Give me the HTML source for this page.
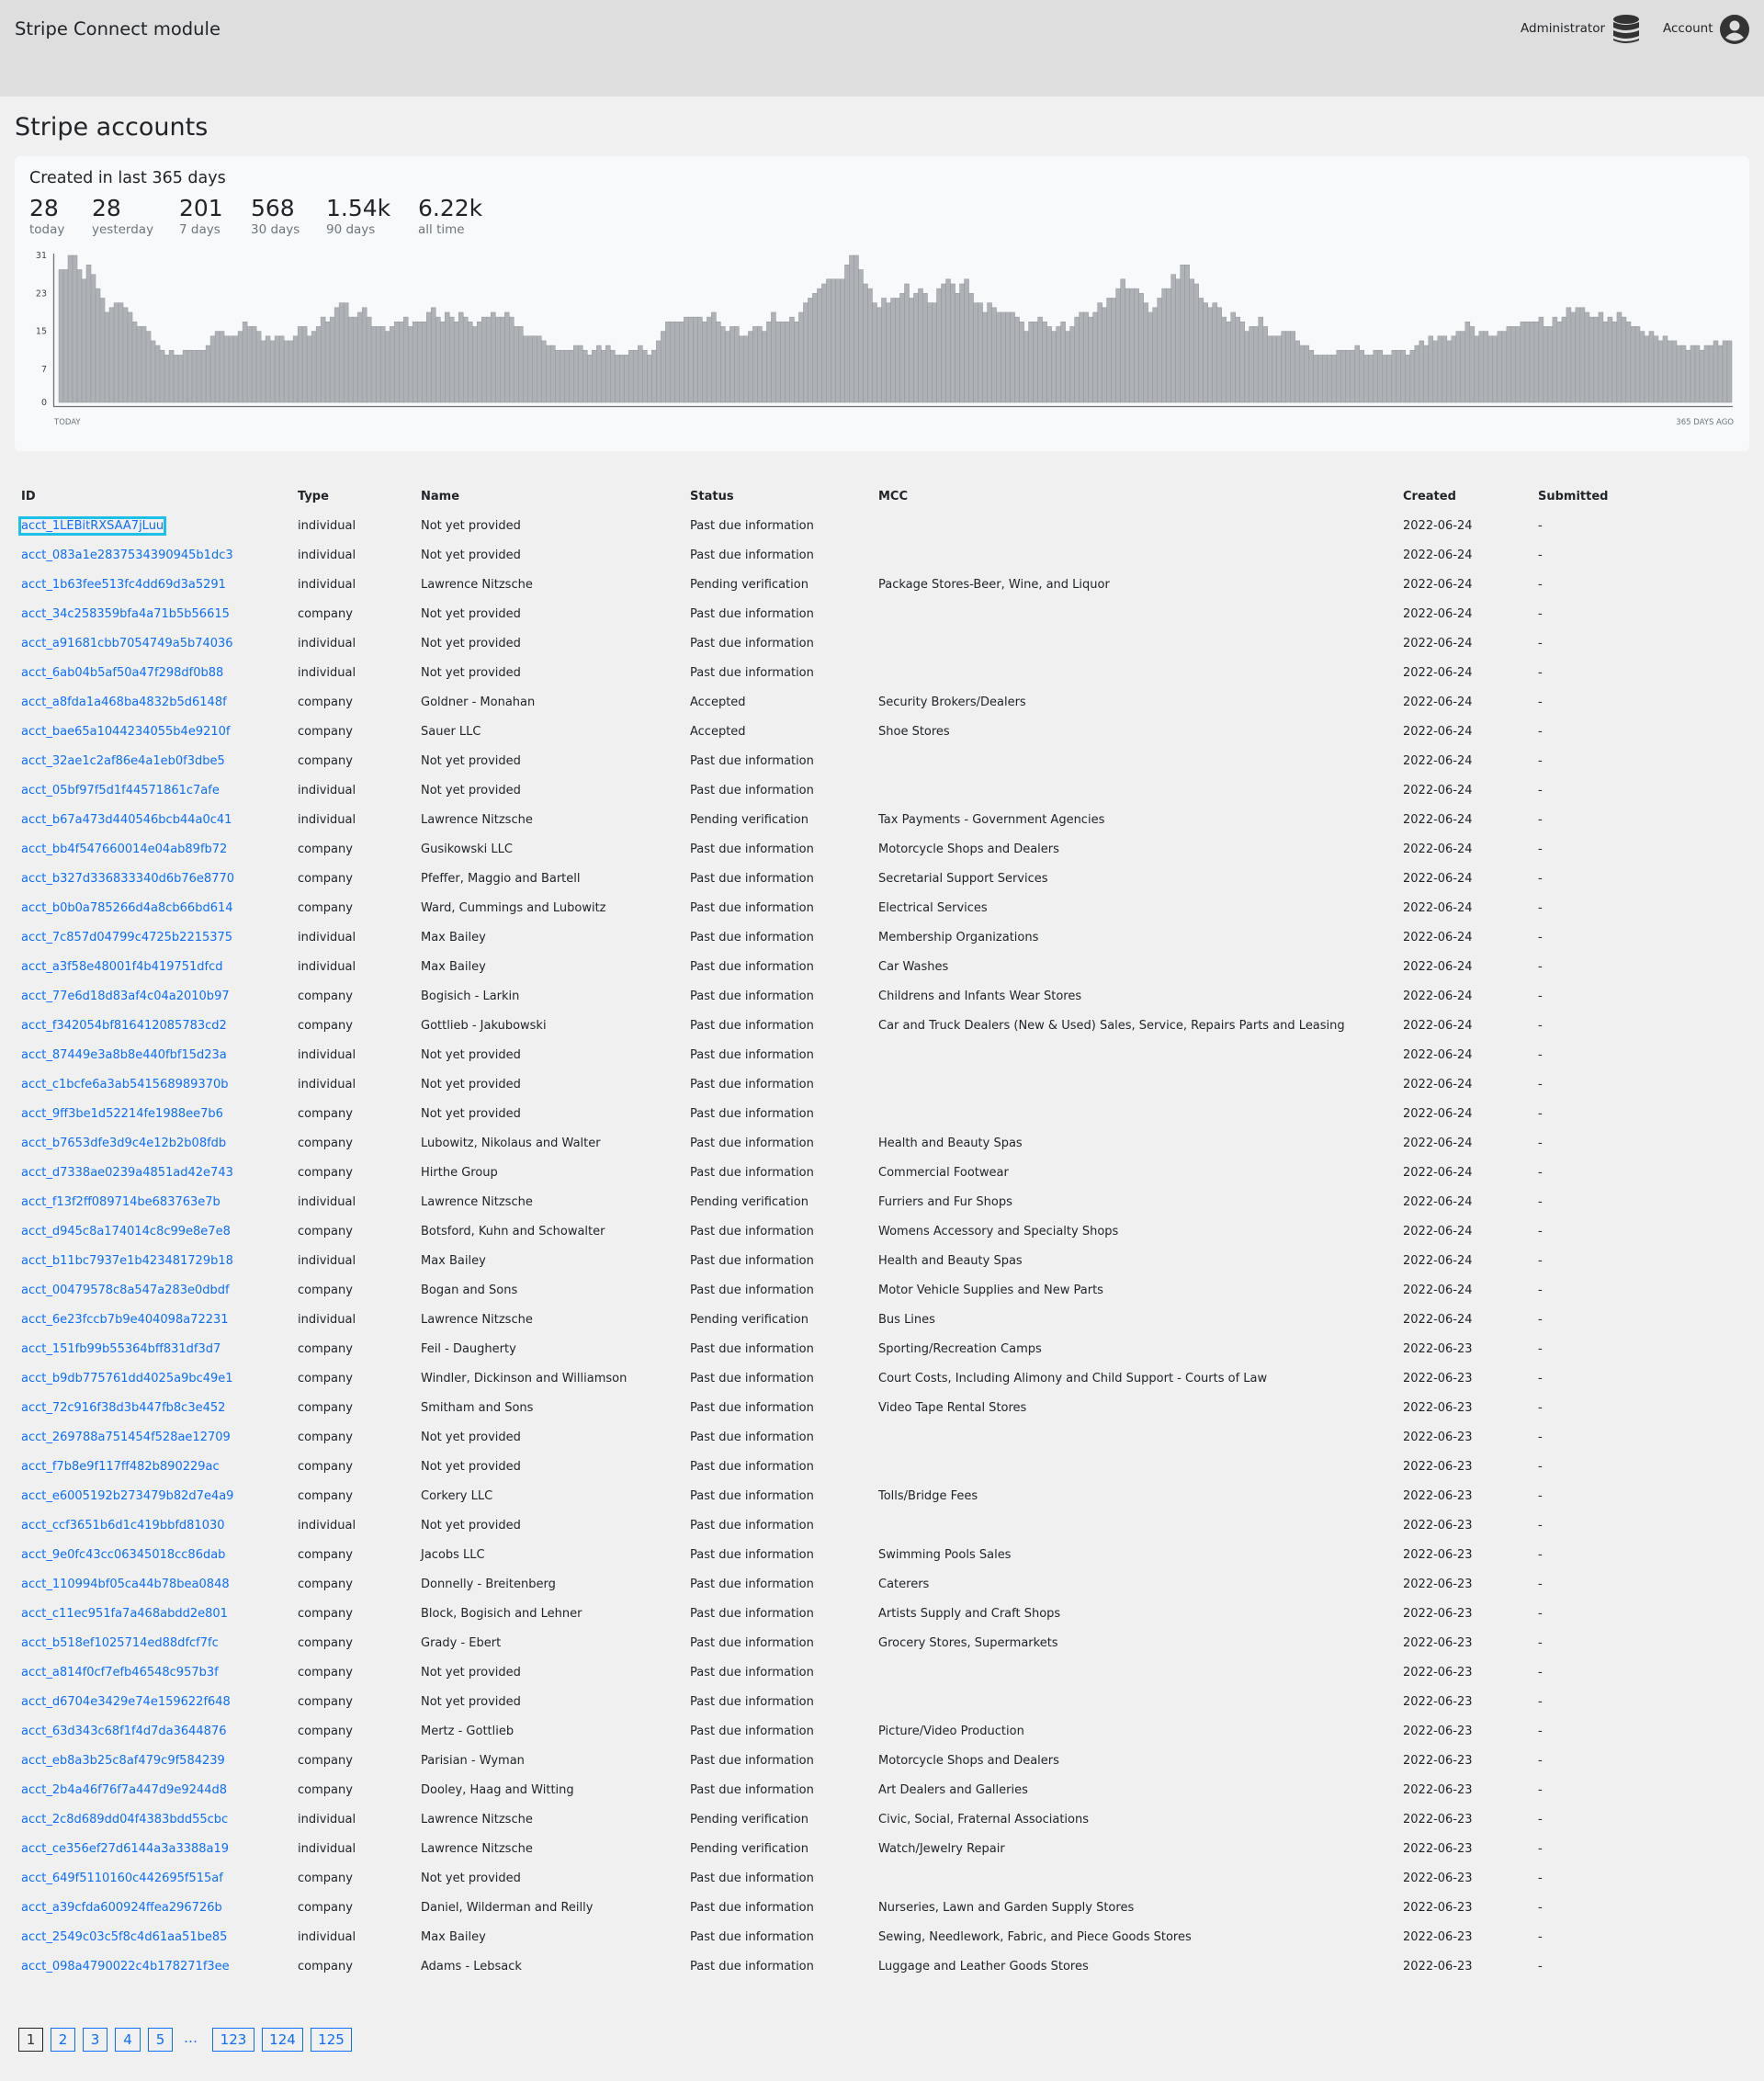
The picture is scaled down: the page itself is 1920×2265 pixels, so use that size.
<!DOCTYPE html>
<html><head><meta charset="utf-8"><title>Stripe accounts</title>
<style>
*{box-sizing:border-box;margin:0;padding:0}
body{width:1920px;height:2265px;background:#f0f0f0;font-family:"DejaVu Sans","Liberation Sans",sans-serif;color:#212529;position:relative;overflow:hidden}
.hdr{position:absolute;left:0;top:0;width:1920px;height:105px;background:#dedede}
.abs{position:absolute;white-space:nowrap}
.card{position:absolute;left:16px;top:170px;width:1888px;height:321px;background:#f8f9fa;border-radius:6px}
.num{position:absolute;top:210px;font-size:25px;color:#212529;line-height:34px}
.lbl{position:absolute;top:242px;font-size:13.5px;color:#6c757d}
table{position:absolute;left:23px;top:524px;border-collapse:collapse;table-layout:fixed;font-size:13px}
td,th{height:32px;padding:0;text-align:left;vertical-align:middle;white-space:nowrap}
th{font-weight:bold}
a{color:#0d6efd;text-decoration:none}
a.focus{outline:3px solid #1cc0e6;outline-offset:0px}
.pg{position:absolute;top:2207px;height:26px;border:1px solid #0d6efd;color:#0d6efd;font-size:15px;text-align:center;line-height:24px}
</style></head><body>
<div class="hdr">
  <div class="abs" style="left:16px;top:20px;font-size:19.5px">Stripe Connect module</div>
  <div class="abs" style="left:1655px;top:23px;font-size:13.5px">Administrator</div>
  <svg class="abs" style="left:1756px;top:16px" width="28" height="32" viewBox="0 0 28 32">
    <ellipse cx="14" cy="5" rx="14" ry="5" fill="#333"/>
    <path d="M0 8 Q14 14 28 8 V14 Q14 20 0 14Z" fill="#333"/>
    <path d="M0 17 Q14 23 28 17 V23 Q14 29 0 23Z" fill="#333"/>
    <path d="M0 26 Q14 32 28 26 V28 Q14 34 0 28Z" fill="#333"/>
  </svg>
  <div class="abs" style="left:1810px;top:23px;font-size:13.5px">Account</div>
  <svg class="abs" style="left:1872px;top:16px" width="32" height="32" viewBox="0 0 32 32">
    <circle cx="16" cy="16" r="16" fill="#333"/>
    <circle cx="16" cy="12" r="5.5" fill="#dedede"/>
    <path d="M6 25 Q16 14 26 25 Q16 32 6 25Z" fill="#dedede"/>
  </svg>
</div>
<div class="abs" style="left:16px;top:123px;font-size:27px">Stripe accounts</div>
<div class="card"></div>
<div class="abs" style="left:32px;top:184px;font-size:17.5px">Created in last 365 days</div>
<div class="num" style="left:32px">28</div><div class="lbl" style="left:32px">today</div>
<div class="num" style="left:100px">28</div><div class="lbl" style="left:100px">yesterday</div>
<div class="num" style="left:195px">201</div><div class="lbl" style="left:195px">7 days</div>
<div class="num" style="left:273px">568</div><div class="lbl" style="left:273px">30 days</div>
<div class="num" style="left:355px">1.54k</div><div class="lbl" style="left:355px">90 days</div>
<div class="num" style="left:455px">6.22k</div><div class="lbl" style="left:455px">all time</div>
<svg id="chart" class="abs" style="left:0;top:0" width="1920" height="480"></svg>
<table id="tbl">
<colgroup><col style="width:301px"><col style="width:134px"><col style="width:293px"><col style="width:205px"><col style="width:571px"><col style="width:147px"><col style="width:200px"></colgroup>
<thead><tr>
<th>ID</th><th>Type</th><th>Name</th><th>Status</th><th>MCC</th><th>Created</th><th>Submitted</th>
</tr></thead><tbody id="tb"></tbody></table>
<div class="pg" style="left:20px;width:27px;border-color:#222;color:#333">1</div>
<div class="pg" style="left:55px;width:27px">2</div>
<div class="pg" style="left:90px;width:27px">3</div>
<div class="pg" style="left:125px;width:28px">4</div>
<div class="pg" style="left:161px;width:27px">5</div>
<div class="abs" style="left:200px;top:2209px;font-size:15px;color:#0d6efd">…</div>
<div class="pg" style="left:231px;width:46px">123</div>
<div class="pg" style="left:285px;width:45px">124</div>
<div class="pg" style="left:338px;width:45px">125</div>
<script>
const dailyCounts=[28,28,31,31,28,26,29,27,24,22,19,20,21,21,20,19,17,16,16,15,13,12,11,10,11,10,10,11,11,11,11,11,12,14,15,15,14,14,14,15,17,16,16,15,13,14,13,14,14,13,13,14,16,16,14,15,16,18,17,18,20,21,21,18,18,19,20,18,16,16,16,15,16,17,17,18,16,17,17,17,19,20,18,17,19,18,17,19,18,17,16,17,18,18,19,18,18,19,18,16,16,14,14,14,14,13,12,12,11,11,11,11,12,12,11,10,
11,12,11,12,11,10,10,10,11,11,12,11,10,11,13,15,17,17,17,17,18,18,18,18,17,18,19,17,16,15,16,16,14,14,15,16,16,15,17,19,17,17,17,18,17,19,21,22,23,24,25,26,26,26,26,29,31,31,28,25,24,21,20,22,21,22,22,23,25,22,23,24,23,21,21,24,25,26,25,23,25,26,23,21,21,19,21,20,19,19,19,19,18,17,15,17,17,18,17,16,15,16,17,15,16,18,19,19,18,19,21,20,22,22,24,26,24,24,24,23,21,19,20,
22,24,24,27,26,29,29,26,25,22,21,20,21,20,18,17,19,18,17,15,16,16,18,16,14,14,14,15,15,15,13,12,12,11,10,10,10,10,10,11,11,11,11,12,11,10,10,11,11,10,10,11,11,11,10,11,12,13,12,14,13,14,14,13,14,15,15,17,16,14,15,15,14,14,15,15,16,16,16,17,17,17,17,18,16,16,18,17,18,20,19,20,20,19,18,18,19,17,18,17,19,18,17,16,16,15,14,15,14,13,14,13,13,12,12,11,12,12,11,12,12,13,12,13,13];
const yTicks=[0,7,15,23,31];
const xLabels=["TODAY","365 DAYS AGO"];
const NS="http://www.w3.org/2000/svg";
const svg=document.getElementById('chart');
const X0=64,X1=1885,Y0=438,YT=278,YMAX=31;
function yScale(v){return Y0-(v/YMAX)*(Y0-YT);}
const bw=(X1-X0)/dailyCounts.length;
function xScale(i){return X0+i*bw;}
function mk(t,a){const e=document.createElementNS(NS,t);for(const k in a)e.setAttribute(k,a[k]);return e;}
dailyCounts.forEach((v,i)=>{
  const r=mk('rect',{x:xScale(i),y:yScale(v),width:bw,height:Y0-yScale(v),fill:'#aeb2b6',stroke:'#92969b','stroke-width':0.5});
  
  
  svg.appendChild(r);
});
const ax=mk('path',{d:`M58.5 276 V442.5 H1886`,stroke:'#6c757d','stroke-width':1.3,fill:'none'});


svg.appendChild(ax);
yTicks.forEach(t=>{
  const tx=mk('text',{x:51,y:yScale(t)+3,'text-anchor':'end','font-size':9.5,fill:'#444','font-family':'DejaVu Sans, sans-serif'});
  tx.textContent=t;
  
  
  svg.appendChild(tx);
});
const l1=mk('text',{x:59,y:462,'font-size':8.5,fill:'#6c757d','font-family':'DejaVu Sans, sans-serif'});
l1.textContent=xLabels[0];


svg.appendChild(l1);
const l2=mk('text',{x:1887,y:462,'text-anchor':'end','font-size':8.5,fill:'#6c757d','font-family':'DejaVu Sans, sans-serif'});
l2.textContent=xLabels[1];


svg.appendChild(l2);

const rows=[
["acct_1LEBitRXSAA7jLuu","individual","Not yet provided","Past due information","","2022-06-24"],
["acct_083a1e2837534390945b1dc3","individual","Not yet provided","Past due information","","2022-06-24"],
["acct_1b63fee513fc4dd69d3a5291","individual","Lawrence Nitzsche","Pending verification","Package Stores-Beer, Wine, and Liquor","2022-06-24"],
["acct_34c258359bfa4a71b5b56615","company","Not yet provided","Past due information","","2022-06-24"],
["acct_a91681cbb7054749a5b74036","individual","Not yet provided","Past due information","","2022-06-24"],
["acct_6ab04b5af50a47f298df0b88","individual","Not yet provided","Past due information","","2022-06-24"],
["acct_a8fda1a468ba4832b5d6148f","company","Goldner - Monahan","Accepted","Security Brokers/Dealers","2022-06-24"],
["acct_bae65a1044234055b4e9210f","company","Sauer LLC","Accepted","Shoe Stores","2022-06-24"],
["acct_32ae1c2af86e4a1eb0f3dbe5","company","Not yet provided","Past due information","","2022-06-24"],
["acct_05bf97f5d1f44571861c7afe","individual","Not yet provided","Past due information","","2022-06-24"],
["acct_b67a473d440546bcb44a0c41","individual","Lawrence Nitzsche","Pending verification","Tax Payments - Government Agencies","2022-06-24"],
["acct_bb4f547660014e04ab89fb72","company","Gusikowski LLC","Past due information","Motorcycle Shops and Dealers","2022-06-24"],
["acct_b327d336833340d6b76e8770","company","Pfeffer, Maggio and Bartell","Past due information","Secretarial Support Services","2022-06-24"],
["acct_b0b0a785266d4a8cb66bd614","company","Ward, Cummings and Lubowitz","Past due information","Electrical Services","2022-06-24"],
["acct_7c857d04799c4725b2215375","individual","Max Bailey","Past due information","Membership Organizations","2022-06-24"],
["acct_a3f58e48001f4b419751dfcd","individual","Max Bailey","Past due information","Car Washes","2022-06-24"],
["acct_77e6d18d83af4c04a2010b97","company","Bogisich - Larkin","Past due information","Childrens and Infants Wear Stores","2022-06-24"],
["acct_f342054bf816412085783cd2","company","Gottlieb - Jakubowski","Past due information","Car and Truck Dealers (New & Used) Sales, Service, Repairs Parts and Leasing","2022-06-24"],
["acct_87449e3a8b8e440fbf15d23a","individual","Not yet provided","Past due information","","2022-06-24"],
["acct_c1bcfe6a3ab541568989370b","individual","Not yet provided","Past due information","","2022-06-24"],
["acct_9ff3be1d52214fe1988ee7b6","company","Not yet provided","Past due information","","2022-06-24"],
["acct_b7653dfe3d9c4e12b2b08fdb","company","Lubowitz, Nikolaus and Walter","Past due information","Health and Beauty Spas","2022-06-24"],
["acct_d7338ae0239a4851ad42e743","company","Hirthe Group","Past due information","Commercial Footwear","2022-06-24"],
["acct_f13f2ff089714be683763e7b","individual","Lawrence Nitzsche","Pending verification","Furriers and Fur Shops","2022-06-24"],
["acct_d945c8a174014c8c99e8e7e8","company","Botsford, Kuhn and Schowalter","Past due information","Womens Accessory and Specialty Shops","2022-06-24"],
["acct_b11bc7937e1b423481729b18","individual","Max Bailey","Past due information","Health and Beauty Spas","2022-06-24"],
["acct_00479578c8a547a283e0dbdf","company","Bogan and Sons","Past due information","Motor Vehicle Supplies and New Parts","2022-06-24"],
["acct_6e23fccb7b9e404098a72231","individual","Lawrence Nitzsche","Pending verification","Bus Lines","2022-06-24"],
["acct_151fb99b55364bff831df3d7","company","Feil - Daugherty","Past due information","Sporting/Recreation Camps","2022-06-23"],
["acct_b9db775761dd4025a9bc49e1","company","Windler, Dickinson and Williamson","Past due information","Court Costs, Including Alimony and Child Support - Courts of Law","2022-06-23"],
["acct_72c916f38d3b447fb8c3e452","company","Smitham and Sons","Past due information","Video Tape Rental Stores","2022-06-23"],
["acct_269788a751454f528ae12709","company","Not yet provided","Past due information","","2022-06-23"],
["acct_f7b8e9f117ff482b890229ac","company","Not yet provided","Past due information","","2022-06-23"],
["acct_e6005192b273479b82d7e4a9","company","Corkery LLC","Past due information","Tolls/Bridge Fees","2022-06-23"],
["acct_ccf3651b6d1c419bbfd81030","individual","Not yet provided","Past due information","","2022-06-23"],
["acct_9e0fc43cc06345018cc86dab","company","Jacobs LLC","Past due information","Swimming Pools Sales","2022-06-23"],
["acct_110994bf05ca44b78bea0848","company","Donnelly - Breitenberg","Past due information","Caterers","2022-06-23"],
["acct_c11ec951fa7a468abdd2e801","company","Block, Bogisich and Lehner","Past due information","Artists Supply and Craft Shops","2022-06-23"],
["acct_b518ef1025714ed88dfcf7fc","company","Grady - Ebert","Past due information","Grocery Stores, Supermarkets","2022-06-23"],
["acct_a814f0cf7efb46548c957b3f","company","Not yet provided","Past due information","","2022-06-23"],
["acct_d6704e3429e74e159622f648","company","Not yet provided","Past due information","","2022-06-23"],
["acct_63d343c68f1f4d7da3644876","company","Mertz - Gottlieb","Past due information","Picture/Video Production","2022-06-23"],
["acct_eb8a3b25c8af479c9f584239","company","Parisian - Wyman","Past due information","Motorcycle Shops and Dealers","2022-06-23"],
["acct_2b4a46f76f7a447d9e9244d8","company","Dooley, Haag and Witting","Past due information","Art Dealers and Galleries","2022-06-23"],
["acct_2c8d689dd04f4383bdd55cbc","individual","Lawrence Nitzsche","Pending verification","Civic, Social, Fraternal Associations","2022-06-23"],
["acct_ce356ef27d6144a3a3388a19","individual","Lawrence Nitzsche","Pending verification","Watch/Jewelry Repair","2022-06-23"],
["acct_649f5110160c442695f515af","company","Not yet provided","Past due information","","2022-06-23"],
["acct_a39cfda600924ffea296726b","company","Daniel, Wilderman and Reilly","Past due information","Nurseries, Lawn and Garden Supply Stores","2022-06-23"],
["acct_2549c03c5f8c4d61aa51be85","individual","Max Bailey","Past due information","Sewing, Needlework, Fabric, and Piece Goods Stores","2022-06-23"],
["acct_098a4790022c4b178271f3ee","company","Adams - Lebsack","Past due information","Luggage and Leather Goods Stores","2022-06-23"]];
const tb=document.getElementById('tb');
const cellNames=['type-cell','name-cell','status-cell','mcc-cell','created-cell'];
rows.forEach((r,i)=>{
  const tr=document.createElement('tr');
  
  
  const td0=document.createElement('td');
  
  
  const a=document.createElement('a');
  a.href='#';a.textContent=r[0];
  if(i===0)a.className='focus';
  
  
  td0.appendChild(a);tr.appendChild(td0);
  for(let j=1;j<6;j++){
    const td=document.createElement('td');td.textContent=r[j];
    
    
    tr.appendChild(td);
  }
  const ts=document.createElement('td');ts.textContent='-';
  
  
  tr.appendChild(ts);
  tb.appendChild(tr);
});
</script>
</body></html>
